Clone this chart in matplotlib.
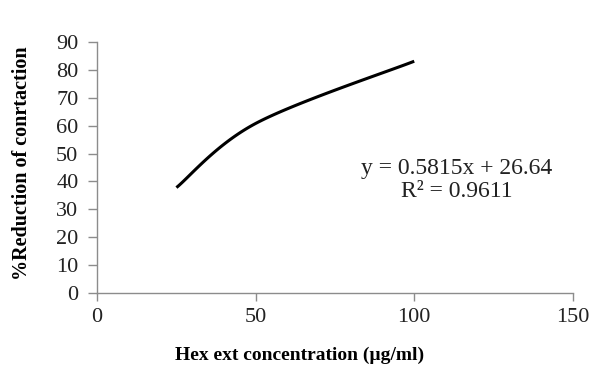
import numpy as np
import matplotlib
matplotlib.use("Agg")
import matplotlib.pyplot as plt

# data
conc = [25, 50, 100]
reduction = [37.8, 60.8, 83.1]
equation = "y = 0.5815x + 26.64"
r_squared = "R² = 0.9611"
x_ticks = [0, 50, 100, 150]
y_ticks = [0, 10, 20, 30, 40, 50, 60, 70, 80, 90]


def smooth_line(xs, ys, n=40):
    """Excel-style smoothed line: cubic Bezier through points, Catmull-Rom tangents."""
    p = np.column_stack([xs, ys]).astype(float)
    out = []
    for i in range(len(p) - 1):
        p0 = p[i - 1] if i > 0 else p[i]
        p3 = p[i + 2] if i + 2 < len(p) else p[i + 1]
        c1 = p[i] + (p[i + 1] - p0) / 6
        c2 = p[i + 1] - (p3 - p[i]) / 6
        t = np.linspace(0, 1, n)[:, None]
        seg = ((1 - t) ** 3 * p[i] + 3 * (1 - t) ** 2 * t * c1
               + 3 * (1 - t) * t ** 2 * c2 + t ** 3 * p[i + 1])
        out.append(seg)
    s = np.vstack(out)
    return s[:, 0], s[:, 1]


plt.rcParams["font.family"] = ["Liberation Serif", "DejaVu Serif"]

fig = plt.figure(figsize=(5.96, 3.67), dpi=100)
ax = fig.add_axes([0.163, 0.2016, 0.798, 0.684])

sx, sy = smooth_line(conc, reduction)
ax.plot(sx, sy, color="black", lw=2.2, solid_capstyle="butt")

ax.set_xlim(0, 150)
ax.set_ylim(0, 90)
ax.set_xticks(x_ticks)
ax.set_yticks(y_ticks)
for side in ("top", "right"):
    ax.spines[side].set_visible(False)
for side in ("left", "bottom"):
    ax.spines[side].set_color("#8c8c8c")
    ax.spines[side].set_linewidth(1.0)
ax.tick_params(colors="#8c8c8c", width=1.0, labelsize=16,
               labelcolor="#222222")
ax.tick_params(axis="y", length=6.5, pad=7)
ax.tick_params(axis="x", length=5.5, pad=5.5)

ax.text(113.5, 40.5, equation + "\n" + r_squared, ha="center", va="center",
        fontsize=17, color="#222222", linespacing=1.1)

ax.set_ylabel("%Reduction of conrtaction", fontsize=14.5, fontweight="bold")
ax.yaxis.set_label_coords(-0.137, 0.516)
fig.text(300 / 596, 1 - 355 / 367, "Hex ext concentration (µg/ml)",
         ha="center", va="center", fontsize=14, fontweight="bold")

fig.savefig("out.png", dpi=100)
